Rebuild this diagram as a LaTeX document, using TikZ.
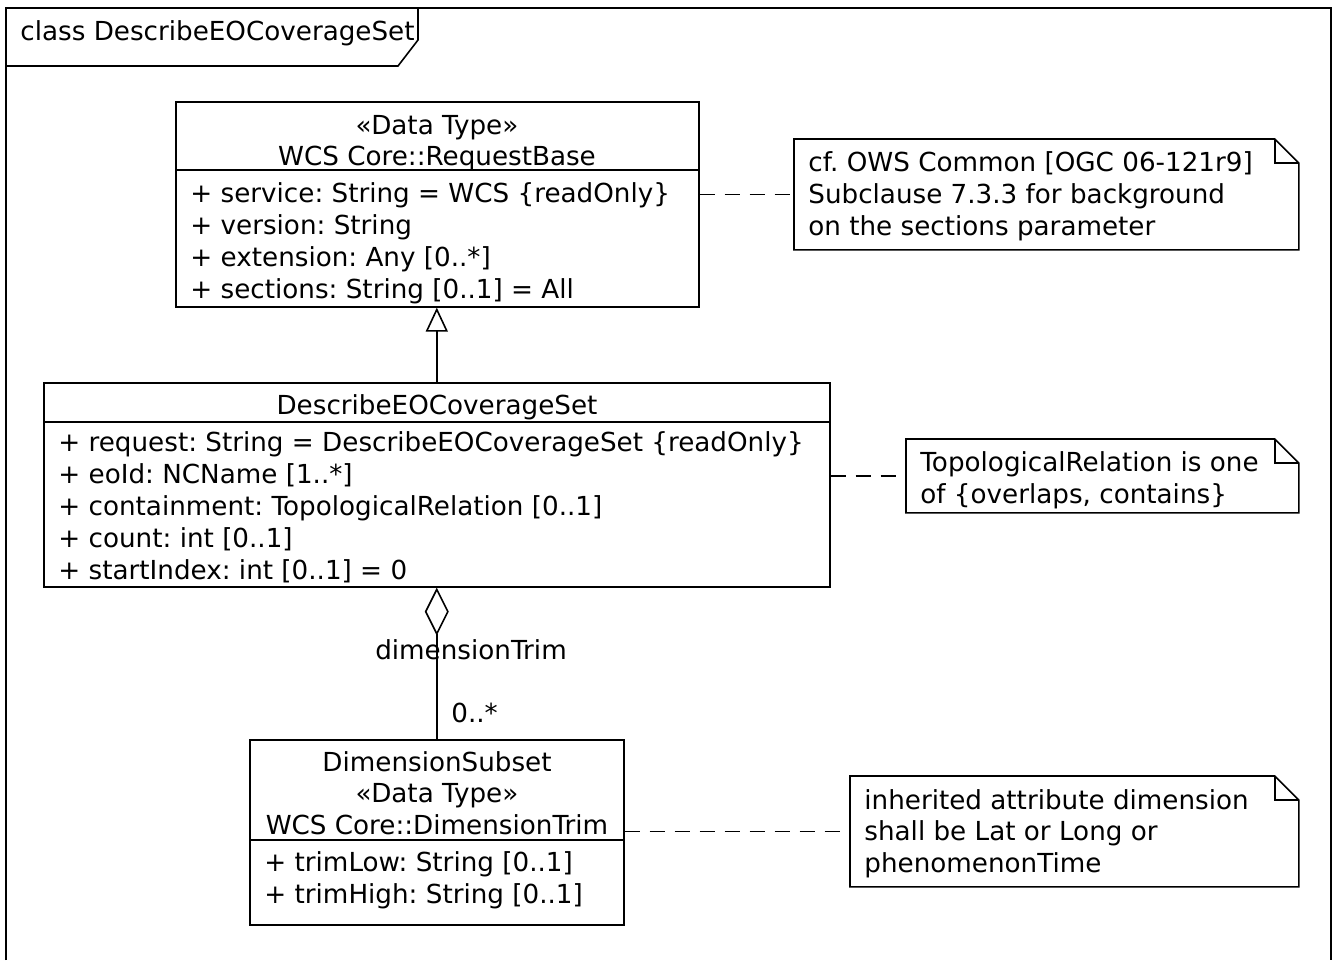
\documentclass[tikz,border=0pt]{standalone}
\usepackage{fontspec}
\setmainfont{DejaVu Sans}
\usetikzlibrary{arrows.meta,positioning}

\tikzset{
  umlline/.style={line width=0.8pt},
  classbox/.style={draw, umlline, inner sep=0pt, anchor=north west},
  notearea/.style={inner sep=0pt, anchor=north west},
  attr/.style={inner sep=0pt, anchor=base west},
  head/.style={inner sep=0pt, anchor=base},
  notelink/.style={umlline, dash pattern=on 7.5pt off 5pt},
}
% folded note outline round a named area
\newcommand{\notefold}[1]{%
  \draw[umlline] (#1.north west) -- ([xshift=-12pt]#1.north east)
    -- ([yshift=-12pt]#1.north east) -- (#1.south east) -- (#1.south west) -- cycle;
  \draw[umlline] ([xshift=-12pt]#1.north east) -- ([xshift=-12pt,yshift=-12pt]#1.north east)
    -- ([yshift=-12pt]#1.north east);
}
\frenchspacing

\begin{document}
\begin{tikzpicture}[x=0.5pt, y=-0.5pt, font=\fontsize{13.1}{16}\selectfont, >=Stealth]
  \useasboundingbox (0,0) rectangle (1339,960);
  % frame
  \draw[umlline] (6,960) -- (6,8) -- (1331,8) -- (1331,960);
  \draw[umlline] (6,66) -- (398,66) -- (418,40) -- (418,8);
  \node[attr] (framelabel) at (20,40) {class DescribeEOCoverageSet};

  % request base
  \node[classbox, minimum width=261.5pt, minimum height=102.5pt] (reqbase) at (175,101) {};
  \draw[umlline] (175,170) -- (698,170);
  \node[head] (reqbasest) at (437,134) {«Data Type»};
  \node[head] (reqbasename) at (437,165) {WCS Core::RequestBase};
  \node[attr] at (190,202) {+ service: String = WCS \{readOnly\}};
  \node[attr] at (190,234) {+ version: String};
  \node[attr] at (190,266) {+ extension: Any [0..*]};
  \node[attr] at (190,298) {+ sections: String [0..1] = All};

  % describe coverage set
  \node[classbox, minimum width=393pt, minimum height=102pt] (descset) at (43,382) {};
  \draw[umlline] (43,422) -- (829,422);
  \node[head] (descsetname) at (437,414) {DescribeEOCoverageSet};
  \node[attr] at (58,451) {+ request: String = DescribeEOCoverageSet \{readOnly\}};
  \node[attr] at (58,483) {+ eoId: NCName [1..*]};
  \node[attr] at (58,515) {+ containment: TopologicalRelation [0..1]};
  \node[attr] at (58,547) {+ count: int [0..1]};
  \node[attr] at (58,579) {+ startIndex: int [0..1] = 0};

  % dimension subset
  \node[classbox, minimum width=187pt, minimum height=92.5pt] (dimsub) at (249,739) {};
  \draw[umlline] (249,840) -- (623,840);
  \node[head] (dimsubname) at (437,771) {DimensionSubset};
  \node[head] (dimsubst) at (437,802) {«Data Type»};
  \node[head] (dimsubtrim) at (437,834) {WCS Core::DimensionTrim};
  \node[attr] at (264,871) {+ trimLow: String [0..1]};
  \node[attr] at (264,903) {+ trimHigh: String [0..1]};

  % notes
  \node[notearea, minimum width=252pt, minimum height=55pt] (notesec) at (794,139) {};
  \notefold{notesec}
  \node[attr] at (808,171) {cf. OWS Common [OGC 06-121r9]};
  \node[attr] at (808,203) {Subclause 7.3.3 for background};
  \node[attr] at (808,235) {on the sections parameter};

  \node[notearea, minimum width=196pt, minimum height=36.5pt] (notetopo) at (906,439) {};
  \notefold{notetopo}
  \node[attr] at (920,471) {TopologicalRelation is one};
  \node[attr] at (920,503) {of \{overlaps, contains\}};

  \node[notearea, minimum width=224pt, minimum height=55pt] (notedim) at (850,776) {};
  \notefold{notedim}
  \node[attr] at (864,809) {inherited attribute dimension};
  \node[attr] at (864,840) {shall be Lat or Long or};
  \node[attr] at (864,872) {phenomenonTime};

  % links
  \draw[umlline, -{Triangle[open, width=11pt, length=12pt]}] (descset.north) -- (descset.north |- reqbase.south);
  \draw[umlline, {Diamond[open, width=12pt, length=24pt]}-] (descset.south) -- (descset.south |- dimsub.north);
  \node[head] (rolename) at (471,659) {dimensionTrim};
  \node[attr] (rolemult) at (451,722) {0..*};
  \draw[notelink] (notesec.west -| reqbase.east) -- (notesec.west);
  \draw[notelink] (notetopo.west -| descset.east) -- (notetopo.west);
  \draw[notelink] (notedim.west -| dimsub.east) -- (notedim.west);
\end{tikzpicture}
\end{document}
